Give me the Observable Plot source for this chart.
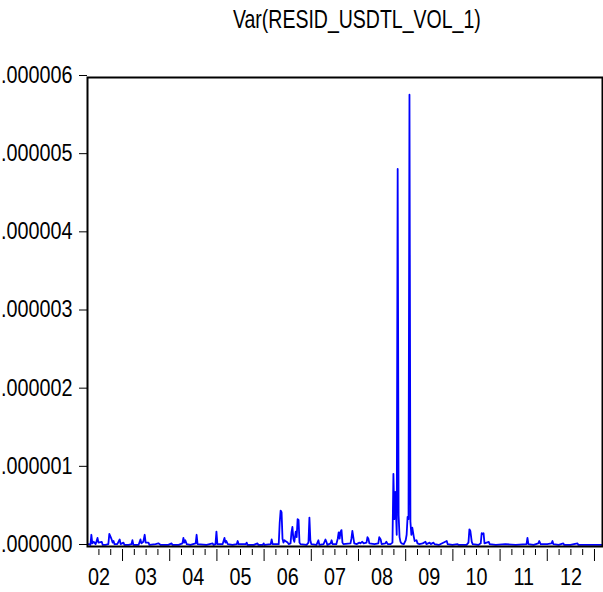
<!DOCTYPE html>
<html>
<head>
<meta charset="utf-8">
<script src="https://cdn.jsdelivr.net/npm/d3@7"></script>
<script src="https://cdn.jsdelivr.net/npm/@observablehq/plot@0.6"></script>
<style>
  html, body { margin: 0; padding: 0; background: #fff; }
  #title {
    box-sizing: border-box; width: 603px; height: 40px; padding-left: 110px;
    line-height: 38px; text-align: center;
    font-family: "Liberation Sans", Arial, sans-serif; font-size: 25px; color: #000;
  }
  #title span { display: inline-block; transform: scaleX(0.78); transform-origin: 50% 50%; }
</style>
</head>
<body>
<div id="title"><span>Var(RESID_USDTL_VOL_1)</span></div>
<div id="chart"></div>
<script>
// Conditional variance of the USD/TL residual, daily, mid-2002 to early 2013.
// Time in decimal years; variance in units of 1e-6.
const years = [
  2002.28, 2002.32, 2002.34, 2002.36, 2002.39, 2002.43, 2002.47, 2002.49, 2002.56, 2002.58,
  2002.64, 2002.70, 2002.72, 2002.75, 2002.77, 2002.79, 2002.81, 2002.83, 2002.89, 2002.94,
  2002.96, 2003.02, 2003.04, 2003.13, 2003.19, 2003.21, 2003.23, 2003.34, 2003.38, 2003.40,
  2003.44, 2003.47, 2003.49, 2003.55, 2003.57, 2003.70, 2003.76, 2003.81, 2003.97, 2004.04,
  2004.06, 2004.19, 2004.27, 2004.29, 2004.31, 2004.33, 2004.36, 2004.44, 2004.55, 2004.57,
  2004.59, 2004.78, 2004.91, 2004.93, 2004.97, 2004.99, 2005.01, 2005.12, 2005.16, 2005.18,
  2005.20, 2005.23, 2005.33, 2005.42, 2005.44, 2005.46, 2005.61, 2005.63, 2005.65, 2005.78,
  2005.86, 2005.88, 2005.97, 2005.99, 2006.01, 2006.14, 2006.16, 2006.18, 2006.31, 2006.33,
  2006.35, 2006.37, 2006.39, 2006.41, 2006.43, 2006.45, 2006.50, 2006.52, 2006.56, 2006.58,
  2006.60, 2006.62, 2006.64, 2006.67, 2006.69, 2006.71, 2006.73, 2006.75, 2006.77, 2006.90,
  2006.94, 2006.96, 2006.98, 2007.00, 2007.11, 2007.15, 2007.17, 2007.26, 2007.30, 2007.32,
  2007.34, 2007.41, 2007.43, 2007.45, 2007.53, 2007.56, 2007.58, 2007.60, 2007.62, 2007.64,
  2007.66, 2007.68, 2007.83, 2007.85, 2007.87, 2007.89, 2007.91, 2007.96, 2008.02, 2008.04,
  2008.08, 2008.11, 2008.17, 2008.19, 2008.21, 2008.23, 2008.34, 2008.42, 2008.44, 2008.47,
  2008.49, 2008.57, 2008.59, 2008.62, 2008.68, 2008.72, 2008.74, 2008.76, 2008.78, 2008.81,
  2008.83, 2008.85, 2008.87, 2008.89, 2008.91, 2008.96, 2009.00, 2009.02, 2009.04, 2009.06,
  2009.08, 2009.10, 2009.12, 2009.14, 2009.17, 2009.19, 2009.23, 2009.25, 2009.29, 2009.36,
  2009.42, 2009.44, 2009.51, 2009.53, 2009.59, 2009.61, 2009.70, 2009.87, 2009.89, 2009.99,
  2010.10, 2010.12, 2010.29, 2010.33, 2010.35, 2010.37, 2010.40, 2010.42, 2010.54, 2010.59,
  2010.61, 2010.63, 2010.65, 2010.67, 2010.76, 2010.78, 2010.91, 2011.11, 2011.33, 2011.56,
  2011.58, 2011.60, 2011.71, 2011.81, 2011.83, 2011.86, 2012.00, 2012.09, 2012.11, 2012.13,
  2012.24, 2012.34, 2012.36, 2012.49, 2012.64, 2012.66, 2012.91, 2013.15
];
const variance = [
  0.03, 0.02, 0.15, 0.04, 0.06, 0.03, 0.11, 0.05, 0.06, 0.02,
  0.02, 0.03, 0.16, 0.12, 0.09, 0.05, 0.07, 0.03, 0.03, 0.09,
  0.03, 0.05, 0.02, 0.02, 0.03, 0.08, 0.02, 0.02, 0.09, 0.04,
  0.06, 0.15, 0.05, 0.05, 0.02, 0.03, 0.04, 0.02, 0.02, 0.04,
  0.02, 0.02, 0.04, 0.11, 0.05, 0.08, 0.03, 0.02, 0.04, 0.15,
  0.03, 0.02, 0.04, 0.02, 0.03, 0.19, 0.03, 0.03, 0.11, 0.05,
  0.07, 0.03, 0.02, 0.03, 0.07, 0.03, 0.03, 0.05, 0.02, 0.02,
  0.04, 0.02, 0.02, 0.04, 0.02, 0.03, 0.09, 0.03, 0.03, 0.30,
  0.46, 0.44, 0.10, 0.05, 0.08, 0.07, 0.05, 0.03, 0.04, 0.18,
  0.25, 0.10, 0.06, 0.19, 0.12, 0.35, 0.34, 0.05, 0.03, 0.02,
  0.05, 0.37, 0.08, 0.03, 0.02, 0.08, 0.02, 0.03, 0.09, 0.06,
  0.02, 0.04, 0.08, 0.03, 0.03, 0.10, 0.18, 0.10, 0.19, 0.21,
  0.05, 0.03, 0.04, 0.10, 0.20, 0.12, 0.04, 0.03, 0.05, 0.04,
  0.06, 0.04, 0.05, 0.12, 0.10, 0.04, 0.03, 0.04, 0.12, 0.09,
  0.03, 0.04, 0.06, 0.03, 0.03, 0.05, 0.93, 0.35, 0.70, 0.15,
  4.83, 0.40, 0.12, 0.06, 0.04, 0.03, 0.08, 0.15, 0.38, 0.35,
  5.78, 0.32, 0.15, 0.24, 0.13, 0.07, 0.08, 0.04, 0.03, 0.04,
  0.06, 0.03, 0.05, 0.03, 0.05, 0.03, 0.02, 0.07, 0.03, 0.02,
  0.03, 0.02, 0.02, 0.05, 0.22, 0.20, 0.06, 0.03, 0.02, 0.04,
  0.17, 0.16, 0.17, 0.04, 0.06, 0.03, 0.02, 0.03, 0.02, 0.03,
  0.11, 0.03, 0.02, 0.04, 0.07, 0.03, 0.03, 0.04, 0.07, 0.03,
  0.02, 0.04, 0.02, 0.02, 0.04, 0.02, 0.02, 0.02
];
const yTicks = [0, 1e-6, 2e-6, 3e-6, 4e-6, 5e-6, 6e-6];
const yearLabels = ["02", "03", "04", "05", "06", "07", "08", "09", "10", "11", "12"];
const firstYear = 2002;

const series = years.map((t, i) => ({t, v: variance[i] * 1e-6}));
const yearStarts = d3.range(firstYear + 1, firstYear + yearLabels.length + 1);
const quarters = d3.range(firstYear, firstYear + yearLabels.length)
  .flatMap(y => [y + 0.25, y + 0.5, y + 0.75])
  .filter(q => q > 2002.3);
const labelPos = yearLabels.map((s, i) => firstYear + i + 0.5);

const chart = Plot.plot({
  width: 603,
  height: 552,
  marginTop: 37,
  marginBottom: 46,
  marginLeft: 87,
  marginRight: 1,
  style: {fontFamily: '"Liberation Sans", Arial, sans-serif', fontSize: "23px", color: "#000", background: "#fff"},
  x: {domain: [2002.258, 2013.17]},
  y: {domain: [0, 6e-6]},
  marks: [
    Plot.axisY(yTicks, {
      tickSize: 8, tickPadding: 7, dy: -2,
      tickFormat: d => d3.format(".6f")(d).replace(/^0/, ""),
      label: null
    }),
    Plot.axisX(quarters, {tickSize: 6, tickFormat: () => "", dy: 3, label: null}),
    Plot.axisX(yearStarts, {tickSize: 12, tickFormat: () => "", dy: 3, label: null}),
    Plot.axisX(labelPos, {
      tickSize: 0, tickPadding: 22,
      tickFormat: d => yearLabels[Math.floor(d) - firstYear],
      label: null
    }),
    Plot.line(series, {x: "t", y: "v", stroke: "#0000ff", strokeWidth: 1.8}),
    Plot.frame({stroke: "#000", strokeWidth: 2})
  ]
});

// Narrow the tick labels horizontally about their anchor points.
chart.querySelectorAll("text").forEach(t => {
  const tr = t.getAttribute("transform");
  if (tr) {
    t.setAttribute("transform", tr + " scale(0.86,1)");
  } else {
    const x = +(t.getAttribute("x") || 0), y = +(t.getAttribute("y") || 0);
    t.removeAttribute("x"); t.removeAttribute("y");
    t.setAttribute("transform", `translate(${x},${y}) scale(0.86,1)`);
  }
});
document.getElementById("chart").append(chart);
</script>
</body>
</html>
